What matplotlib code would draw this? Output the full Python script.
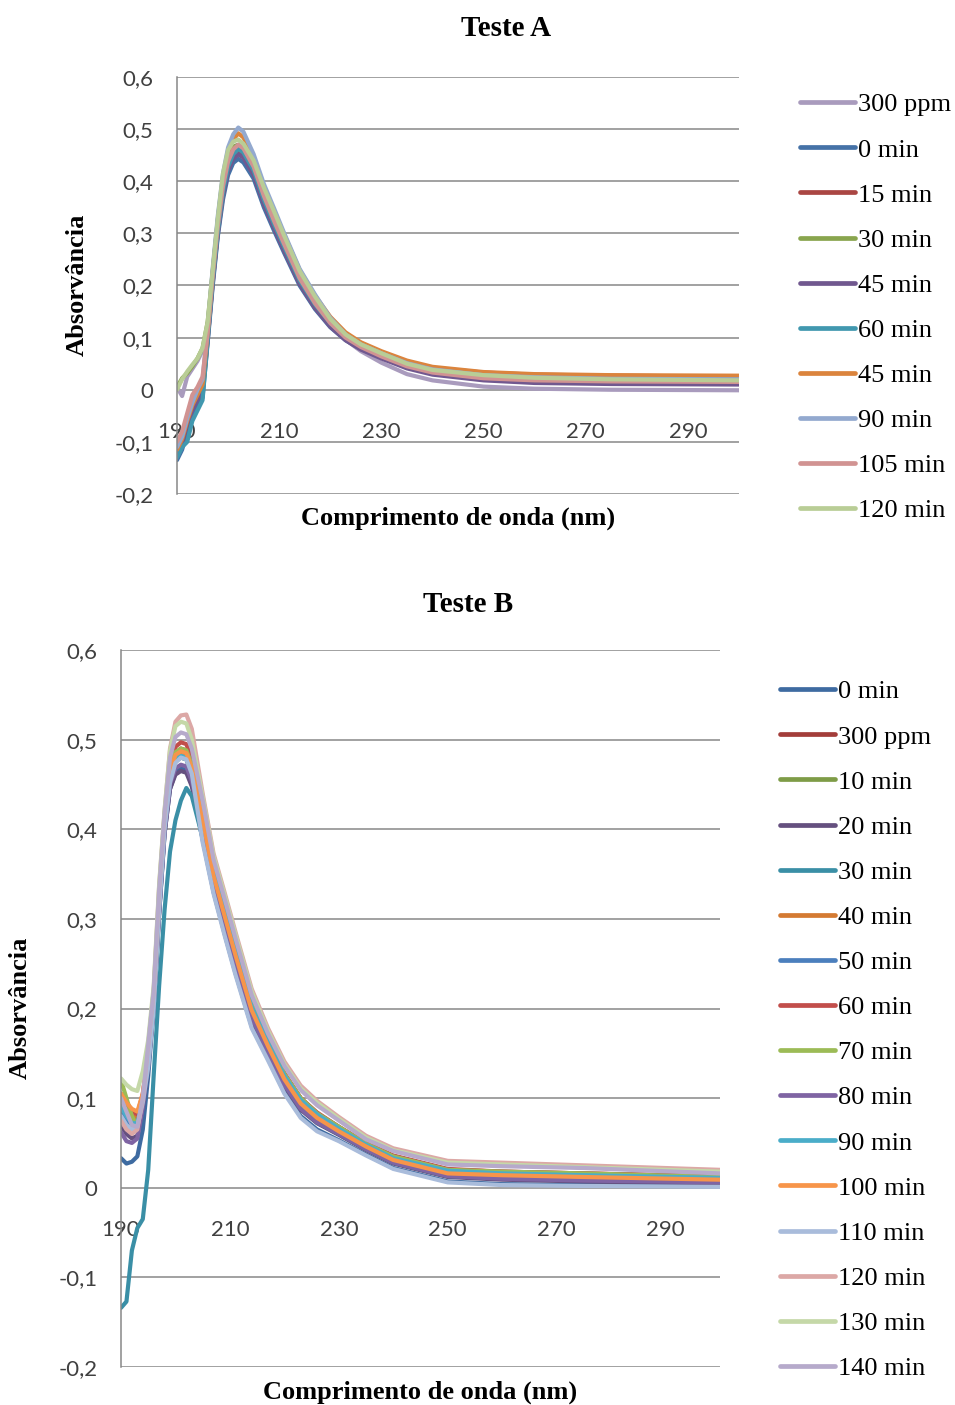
import matplotlib
matplotlib.use("Agg")
import matplotlib.pyplot as plt

# wavelength grid (nm) shared by both panels
wl = [190, 191, 192, 193, 194, 195, 196, 197, 198, 199, 200, 201, 202, 203, 205,
      207, 209, 211, 214, 217, 220, 223, 226, 230, 235, 240, 250, 260, 275, 300]

# --- Teste A ---
a_labels = ["300 ppm", "0 min", "15 min", "30 min", "45 min", "60 min",
            "45 min", "90 min", "105 min", "120 min"]
a_colors = ["#A99BBD", "#4572A7", "#AA4643", "#89A54E", "#71588F", "#4198AF",
            "#DB843D", "#93A9CF", "#D19392", "#B9CD96"]
a_300 = [0.005, -0.012, 0.025, 0.04, 0.055, 0.075, 0.125, 0.225, 0.325, 0.405, 0.45, 0.466, 0.47, 0.462, 0.43,
         0.378, 0.333, 0.288, 0.222, 0.172, 0.128, 0.096, 0.074, 0.052, 0.03, 0.018, 0.006, 0.002, 0.0, -0.001]
a_0 = [-0.135, -0.115, -0.08, -0.05, -0.03, -0.015, 0.09, 0.2, 0.295, 0.365, 0.412, 0.435, 0.443, 0.436, 0.405,
       0.35, 0.305, 0.262, 0.2, 0.155, 0.12, 0.095, 0.078, 0.062, 0.044, 0.033, 0.022, 0.017, 0.014, 0.012]
a_15 = [-0.12, -0.1, -0.065, -0.035, -0.015, 0.0, 0.1, 0.21, 0.305, 0.378, 0.425, 0.448, 0.458, 0.451, 0.418,
        0.362, 0.315, 0.272, 0.208, 0.162, 0.126, 0.101, 0.085, 0.07, 0.053, 0.042, 0.033, 0.029, 0.027, 0.025]
a_30 = [0.005, 0.022, 0.032, 0.045, 0.06, 0.08, 0.13, 0.228, 0.328, 0.41, 0.452, 0.466, 0.47, 0.462, 0.43,
        0.38, 0.334, 0.29, 0.225, 0.176, 0.134, 0.104, 0.085, 0.067, 0.047, 0.035, 0.024, 0.019, 0.016, 0.015]
a_45 = [-0.12, -0.1, -0.065, -0.04, -0.02, -0.005, 0.095, 0.205, 0.3, 0.372, 0.42, 0.443, 0.452, 0.445, 0.412,
        0.356, 0.31, 0.266, 0.203, 0.157, 0.121, 0.095, 0.077, 0.06, 0.041, 0.029, 0.018, 0.013, 0.011, 0.01]
a_60 = [-0.13, -0.11, -0.1, -0.06, -0.04, -0.02, 0.095, 0.21, 0.305, 0.38, 0.428, 0.452, 0.462, 0.455, 0.421,
        0.365, 0.318, 0.274, 0.21, 0.164, 0.128, 0.101, 0.084, 0.067, 0.048, 0.037, 0.027, 0.023, 0.021, 0.02]
a_45b = [-0.115, -0.095, -0.06, -0.03, -0.01, 0.01, 0.11, 0.225, 0.325, 0.405, 0.455, 0.48, 0.492, 0.484, 0.446,
         0.39, 0.343, 0.297, 0.23, 0.181, 0.14, 0.11, 0.091, 0.074, 0.056, 0.044, 0.034, 0.03, 0.028, 0.027]
a_90 = [-0.11, -0.09, -0.055, -0.025, 0.0, 0.02, 0.12, 0.235, 0.335, 0.415, 0.465, 0.49, 0.503, 0.495, 0.452,
        0.395, 0.348, 0.3, 0.232, 0.183, 0.138, 0.106, 0.087, 0.07, 0.051, 0.039, 0.028, 0.024, 0.021, 0.02]
a_105 = [-0.10, -0.08, -0.045, -0.01, 0.005, 0.025, 0.11, 0.22, 0.315, 0.39, 0.438, 0.461, 0.47, 0.463, 0.428,
         0.372, 0.324, 0.279, 0.214, 0.166, 0.128, 0.1, 0.082, 0.064, 0.045, 0.033, 0.022, 0.018, 0.016, 0.015]
a_120 = [0.0, 0.02, 0.035, 0.048, 0.06, 0.08, 0.13, 0.23, 0.33, 0.415, 0.46, 0.476, 0.48, 0.472, 0.44,
         0.388, 0.342, 0.295, 0.228, 0.179, 0.136, 0.106, 0.087, 0.07, 0.05, 0.038, 0.028, 0.023, 0.02, 0.018]
a_series = [a_300, a_0, a_15, a_30, a_45, a_60, a_45b, a_90, a_105, a_120]

# --- Teste B ---
b_labels = ["0 min", "300 ppm", "10 min", "20 min", "30 min", "40 min", "50 min", "60 min",
            "70 min", "80 min", "90 min", "100 min", "110 min", "120 min", "130 min", "140 min"]
b_colors = ["#3E6BA1", "#A33D3A", "#7E9C47", "#65507F", "#3A8FA6", "#D47A32", "#4B7FBD", "#C24E4B",
            "#9CBB56", "#7F64A3", "#4AADC9", "#F7954A", "#A9BCDB", "#DCA8A6", "#C5D8A8", "#B6AACB"]
b_0 = [0.033, 0.027, 0.029, 0.035, 0.065, 0.125, 0.2, 0.305, 0.395, 0.445, 0.463, 0.468, 0.466, 0.45, 0.388,
       0.33, 0.284, 0.24, 0.18, 0.144, 0.107, 0.08, 0.065, 0.053, 0.037, 0.022, 0.007, 0.004, 0.003, 0.002]
b_300 = [0.095, 0.085, 0.075, 0.075, 0.1, 0.145, 0.21, 0.32, 0.41, 0.465, 0.485, 0.49, 0.488, 0.472, 0.418,
         0.355, 0.311, 0.267, 0.204, 0.164, 0.127, 0.1, 0.083, 0.068, 0.049, 0.035, 0.02, 0.018, 0.016, 0.012]
b_10 = [0.1, 0.085, 0.07, 0.068, 0.095, 0.14, 0.205, 0.315, 0.405, 0.457, 0.476, 0.48, 0.478, 0.462, 0.407,
        0.346, 0.301, 0.257, 0.196, 0.156, 0.119, 0.092, 0.077, 0.063, 0.045, 0.03, 0.016, 0.013, 0.011, 0.008]
b_20 = [0.07, 0.06, 0.055, 0.058, 0.09, 0.135, 0.2, 0.305, 0.395, 0.445, 0.461, 0.465, 0.463, 0.448, 0.399,
        0.339, 0.294, 0.25, 0.189, 0.151, 0.114, 0.087, 0.072, 0.059, 0.042, 0.027, 0.012, 0.009, 0.007, 0.005]
b_30 = [-0.134, -0.127, -0.07, -0.045, -0.035, 0.02, 0.125, 0.225, 0.31, 0.375, 0.41, 0.432, 0.446, 0.437, 0.39,
        0.335, 0.296, 0.252, 0.191, 0.152, 0.116, 0.089, 0.073, 0.06, 0.043, 0.028, 0.013, 0.011, 0.01, 0.01]
b_40 = [0.1, 0.088, 0.08, 0.078, 0.1, 0.145, 0.21, 0.318, 0.408, 0.461, 0.481, 0.485, 0.483, 0.467, 0.41,
        0.348, 0.304, 0.26, 0.198, 0.158, 0.121, 0.094, 0.078, 0.063, 0.046, 0.031, 0.016, 0.014, 0.012, 0.009]
b_50 = [0.085, 0.075, 0.068, 0.07, 0.095, 0.14, 0.205, 0.315, 0.405, 0.457, 0.476, 0.48, 0.478, 0.462, 0.407,
        0.346, 0.301, 0.257, 0.196, 0.156, 0.119, 0.092, 0.077, 0.063, 0.045, 0.03, 0.016, 0.013, 0.011, 0.008]
b_60 = [0.105, 0.095, 0.085, 0.082, 0.105, 0.15, 0.215, 0.325, 0.415, 0.47, 0.492, 0.497, 0.495, 0.478, 0.42,
        0.357, 0.312, 0.268, 0.205, 0.165, 0.128, 0.1, 0.084, 0.068, 0.05, 0.036, 0.021, 0.018, 0.016, 0.013]
b_70 = [0.12, 0.1, 0.08, 0.068, 0.095, 0.15, 0.212, 0.322, 0.412, 0.467, 0.486, 0.49, 0.488, 0.472, 0.418,
        0.355, 0.311, 0.267, 0.204, 0.164, 0.127, 0.1, 0.083, 0.068, 0.049, 0.035, 0.02, 0.018, 0.016, 0.012]
b_80 = [0.062, 0.052, 0.05, 0.055, 0.09, 0.138, 0.202, 0.308, 0.398, 0.45, 0.468, 0.472, 0.47, 0.454, 0.401,
        0.341, 0.296, 0.252, 0.19, 0.152, 0.115, 0.088, 0.073, 0.06, 0.043, 0.028, 0.013, 0.01, 0.008, 0.006]
b_90 = [0.09, 0.08, 0.072, 0.072, 0.098, 0.145, 0.21, 0.318, 0.408, 0.46, 0.478, 0.482, 0.48, 0.465, 0.415,
        0.353, 0.308, 0.265, 0.202, 0.162, 0.125, 0.098, 0.082, 0.066, 0.048, 0.033, 0.019, 0.016, 0.014, 0.011]
b_100 = [0.105, 0.095, 0.088, 0.085, 0.105, 0.148, 0.212, 0.32, 0.41, 0.464, 0.483, 0.487, 0.485, 0.469, 0.41,
         0.348, 0.304, 0.26, 0.198, 0.158, 0.121, 0.094, 0.078, 0.063, 0.046, 0.031, 0.016, 0.014, 0.012, 0.009]
b_110 = [0.08, 0.07, 0.065, 0.068, 0.095, 0.135, 0.2, 0.31, 0.4, 0.452, 0.474, 0.48, 0.478, 0.462, 0.385,
         0.328, 0.282, 0.238, 0.178, 0.142, 0.105, 0.078, 0.063, 0.052, 0.036, 0.021, 0.006, 0.003, 0.002, 0.001]
b_120 = [0.075, 0.065, 0.06, 0.065, 0.1, 0.16, 0.22, 0.336, 0.42, 0.49, 0.52, 0.527, 0.528, 0.512, 0.44,
         0.373, 0.33, 0.286, 0.222, 0.178, 0.141, 0.114, 0.097, 0.079, 0.058, 0.044, 0.03, 0.028, 0.025, 0.02]
b_130 = [0.122, 0.115, 0.11, 0.108, 0.13, 0.165, 0.225, 0.338, 0.422, 0.488, 0.515, 0.52, 0.518, 0.5, 0.436,
         0.37, 0.327, 0.283, 0.219, 0.175, 0.138, 0.111, 0.095, 0.077, 0.056, 0.042, 0.028, 0.026, 0.023, 0.018]
b_140 = [0.1, 0.085, 0.07, 0.068, 0.1, 0.16, 0.22, 0.332, 0.418, 0.48, 0.503, 0.508, 0.506, 0.49, 0.432,
         0.366, 0.323, 0.279, 0.215, 0.172, 0.136, 0.109, 0.092, 0.075, 0.054, 0.041, 0.026, 0.024, 0.022, 0.016]
b_series = [b_0, b_300, b_10, b_20, b_30, b_40, b_50, b_60, b_70, b_80, b_90, b_100, b_110, b_120, b_130, b_140]

xticks = [190, 210, 230, 250, 270, 290]
yticks = [-0.2, -0.1, 0, 0.1, 0.2, 0.3, 0.4, 0.5, 0.6]
ytick_labels = ["-0,2", "-0,1", "0", "0,1", "0,2", "0,3", "0,4", "0,5", "0,6"]

W, H = 955, 1405
SERIF = "Liberation Serif"
SANS = "Lato"
GRID = "#878787"
TXT = "#404040"


def px_axes(fig, left, top, right, bottom):
    return fig.add_axes([left / W, 1 - bottom / H, (right - left) / W, (bottom - top) / H])


def panel(fig, box, series, labels, colors, legend_top, legend_left):
    ax = px_axes(fig, *box)
    for y, lab, c in zip(series, labels, colors):
        ax.plot(wl, y, color=c, lw=3.0, label=lab,
                solid_capstyle="round", solid_joinstyle="round")
    ax.set_xlim(190, 300)
    ax.set_ylim(-0.2, 0.6)
    ax.set_yticks(yticks)
    ax.set_yticklabels(ytick_labels)
    ax.set_xticks(xticks)
    ax.set_xticklabels([str(t) for t in xticks])
    ax.grid(axis="y", color=GRID, lw=1.1)
    ax.set_axisbelow(True)
    for s in ["top", "right", "bottom"]:
        ax.spines[s].set_visible(False)
    ax.spines["left"].set_color(GRID)
    ax.spines["left"].set_linewidth(1.1)
    ax.spines["bottom"].set_position(("data", 0))
    ax.tick_params(axis="y", length=0, pad=17, labelsize=16, labelcolor=TXT)
    ax.tick_params(axis="x", length=0, pad=23, labelsize=16, labelcolor=TXT)
    for t in ax.get_xticklabels() + ax.get_yticklabels():
        t.set_fontfamily(SANS)
    leg = ax.legend(loc="upper left",
                    bbox_to_anchor=(legend_left / W, 1 - legend_top / H),
                    bbox_transform=fig.transFigure, frameon=False,
                    prop={"family": SERIF, "size": 19}, handlelength=2.1,
                    handletextpad=0.1, labelspacing=0.82, borderpad=0, borderaxespad=0)
    for line in leg.get_lines():
        line.set_linewidth(3.4)
    return ax


fig = plt.figure(figsize=(W / 100, H / 100), dpi=100)

panel(fig, (177, 77, 739, 494), a_series, a_labels, a_colors, 93, 800)
fig.text(506 / W, 1 - 29 / H, "Teste A", ha="center", va="center",
         family=SERIF, weight="bold", size=21)
fig.text(458 / W, 1 - 518 / H, "Comprimento de onda (nm)", ha="center", va="center",
         family=SERIF, weight="bold", size=19)
fig.text(77 / W, 1 - 285 / H, "Absorvância", ha="center", va="center", rotation=90,
         family=SERIF, weight="bold", size=19)

panel(fig, (121, 650, 720, 1367), b_series, b_labels, b_colors, 680, 780)
fig.text(468 / W, 1 - 604 / H, "Teste B", ha="center", va="center",
         family=SERIF, weight="bold", size=21)
fig.text(420 / W, 1 - 1392 / H, "Comprimento de onda (nm)", ha="center", va="center",
         family=SERIF, weight="bold", size=19)
fig.text(20 / W, 1 - 1008 / H, "Absorvância", ha="center", va="center", rotation=90,
         family=SERIF, weight="bold", size=19)

fig.savefig("out.png", dpi=100)
